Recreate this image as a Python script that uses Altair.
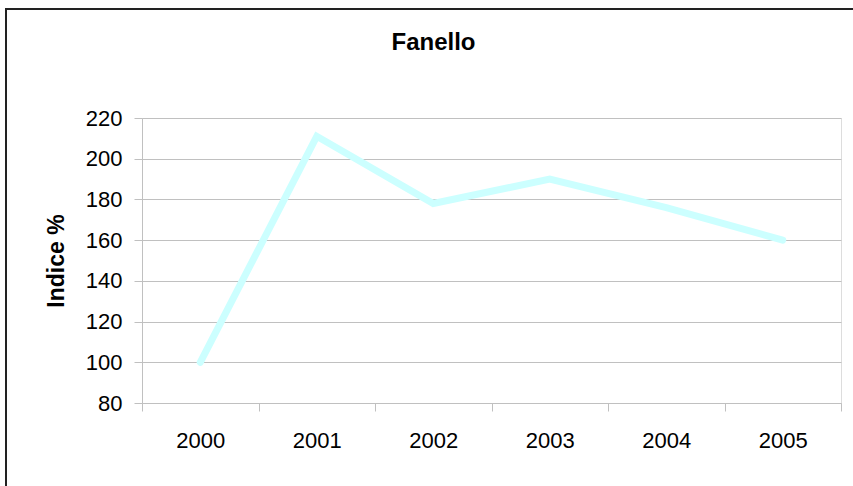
import altair as alt
import pandas as pd

years = ["2000", "2001", "2002", "2003", "2004", "2005"]
values = [100, 211, 178, 190, 176, 160]
y_ticks = [80, 100, 120, 140, 160, 180, 200, 220]

df = pd.DataFrame({"Anno": years, "Indice": values})

FONT = "Liberation Sans"
GRAY = "#c0c0c0"

line = alt.Chart(df).mark_line(color="#CCFFFF", strokeWidth=7, strokeCap="round").encode(
    x=alt.X(
        "Anno:N",
        sort=years,
        scale=alt.Scale(type="band", paddingInner=0, paddingOuter=0),
        axis=alt.Axis(
            title=None, labelAngle=0, tickBand="extent", grid=False,
            labelFont=FONT, labelFontSize=22, labelColor="black",
            tickColor=GRAY, tickSize=8, domainColor=GRAY, labelPadding=19,
        ),
    ),
    y=alt.Y(
        "Indice:Q",
        scale=alt.Scale(domain=[80, 220], nice=False, zero=False),
        axis=alt.Axis(
            values=y_ticks, title="Indice %", grid=True, gridColor=GRAY,
            labelFont=FONT, labelFontSize=22, labelColor="black",
            titleFont=FONT, titleFontSize=23, titleFontWeight="bold", titleColor="black",
            tickColor=GRAY, tickSize=8, domainColor=GRAY, labelPadding=12,
            titlePadding=17,
        ),
    ),
)

frame = alt.Chart(alt.Data(values=[{"f": 1}])).mark_rect(
    fill=None, stroke="#222222", strokeWidth=2
).encode(
    x=alt.value(-136), x2=alt.value(740), y=alt.value(-109), y2=alt.value(420)
)

chart = alt.layer(frame, line).properties(
    width=699,
    height=285,
    autosize="none",
    padding={"left": 142, "top": 118, "right": 12, "bottom": 83},
    title=alt.TitleParams(
        "Fanello", font=FONT, fontSize=24, fontWeight="bold", color="black",
        anchor="middle", dx=-58, offset=-66, baseline="alphabetic",
    ),
).configure_view(stroke=GRAY, strokeWidth=1).configure(background="white")

chart.save("out.html", embed_options={"renderer": "svg", "actions": False})
